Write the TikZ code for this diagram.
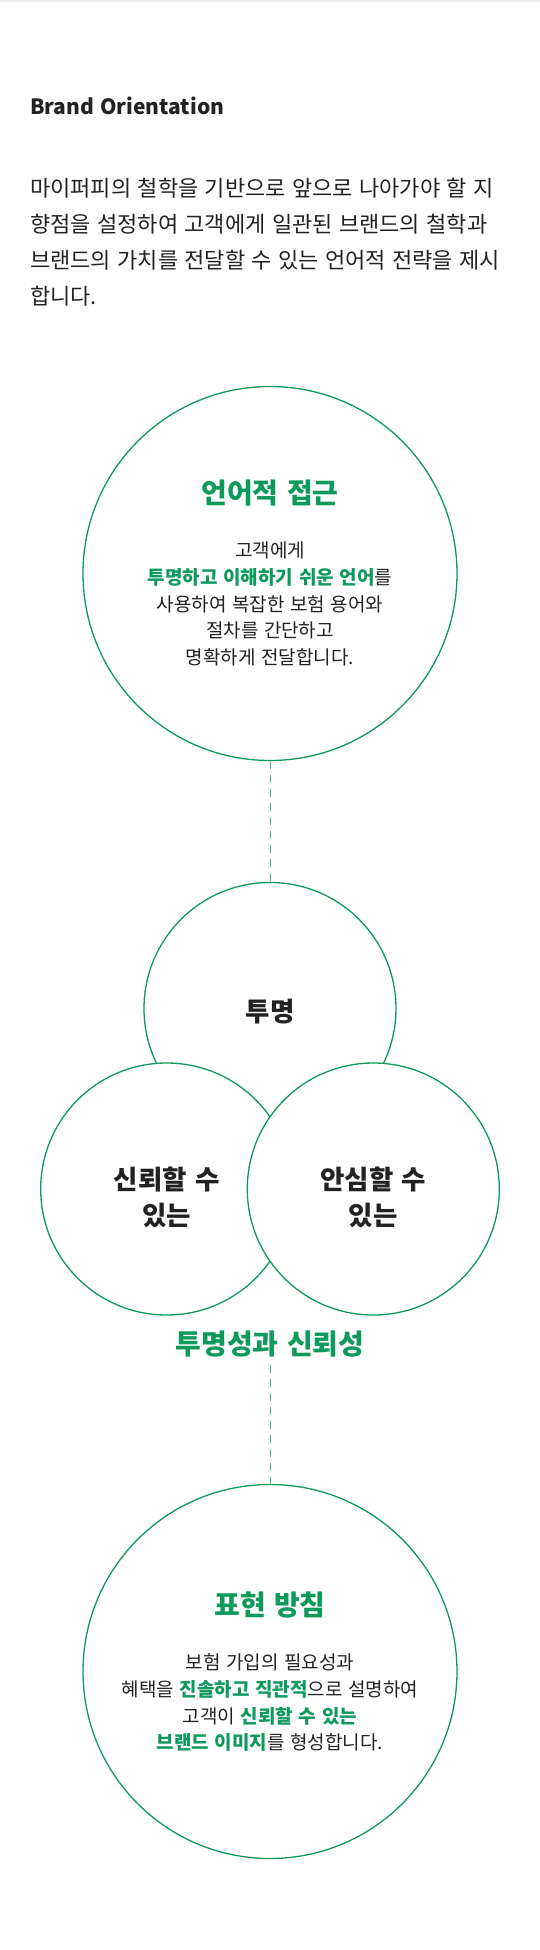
\documentclass[tikz,border=0pt]{standalone}
\usepackage{fontspec}
\setmainfont{Noto Sans CJK KR}[WordSpace=1.3]
\usetikzlibrary{positioning}
\definecolor{brandgreen}{HTML}{0E9A5B}
\definecolor{inkdark}{HTML}{222222}
\definecolor{rulegray}{HTML}{EEEEEE}
\newcommand{\hl}[1]{\textbf{\textcolor{brandgreen}{#1}}}

\begin{document}
\begin{tikzpicture}[x=1pt, y=-1pt,
    bigcircle/.style={circle, draw=brandgreen, line width=1.3pt, fill=white, minimum size=374pt, inner sep=0pt},
    venncircle/.style={circle, draw=brandgreen, line width=1.3pt, fill=white, minimum size=252pt, inner sep=0pt},
    heading/.style={font=\fontsize{28}{34}\selectfont\bfseries, text=brandgreen, inner sep=0pt},
    body/.style={font=\fontsize{19}{26.67}\selectfont, text=inkdark, align=center, inner sep=0pt},
    vennlabel/.style={font=\fontsize{26.5}{36}\selectfont\bfseries, text=inkdark, align=center, inner sep=0pt},
    link/.style={draw=brandgreen!75, line width=1pt, dash pattern=on 8pt off 6pt}
]
    \useasboundingbox[fill=white] (0,0) rectangle (540,1950);
    \draw[rulegray, line width=1.5pt] (0,1) -- (540,1);

    % Header
    \node[anchor=west, inner sep=0pt, font=\fontsize{21}{24}\selectfont\bfseries, text=inkdark] (title) at (30,106) {Brand Orientation};
    \node[anchor=west, inner sep=0pt, align=left, font=\fontsize{22}{36}\selectfont, text=inkdark] (intro) at (30,242) {%
        마이퍼피의 철학을 기반으로 앞으로 나아가야 할 지\\
        향점을 설정하여 고객에게 일관된 브랜드의 철학과\\
        브랜드의 가치를 전달할 수 있는 언어적 전략을 제시\\
        합니다.};

    % Language approach
    \node[bigcircle] (approach) at (270,573.5) {};
    \node[heading] (approachhead) at (270,493) {언어적 접근};
    \node[body] (approachtext) at (270,604) {%
        고객에게\\
        \hl{투명하고 이해하기 쉬운 언어}를\\
        사용하여 복잡한 보험 용어와\\
        절차를 간단하고\\
        명확하게 전달합니다.};

    % Venn: clarity and trust
    \node[venncircle] (clarity) at (270,1008.5) {};
    \node[venncircle] (trust) at (166.7,1189) {};
    \node[venncircle] (relief) at (373.3,1189) {};
    \node[vennlabel] (claritytext) at (270,1012) {투명};
    \node[vennlabel] (trusttext) at (166.7,1197) {신뢰할 수\\있는};
    \node[vennlabel] (relieftext) at (373.3,1197) {안심할 수\\있는};
    \node[heading] (venncaption) at (270,1344) {투명성과 신뢰성};

    % Expression policy
    \node[bigcircle] (policy) at (270,1671.5) {};
    \node[heading] (policyhead) at (270,1605) {표현 방침};
    \node[body] (policytext) at (270,1702.7) {%
        보험 가입의 필요성과\\
        혜택을 \hl{진솔하고 직관적}으로 설명하여\\
        고객이 \hl{신뢰할 수 있는}\\
        \hl{브랜드 이미지}를 형성합니다.};

    % Links
    \draw[link] (approach.south) -- (clarity.north);
    \draw[link, shorten <=8pt] (venncaption.south) -- (policy.north);
\end{tikzpicture}
\end{document}
